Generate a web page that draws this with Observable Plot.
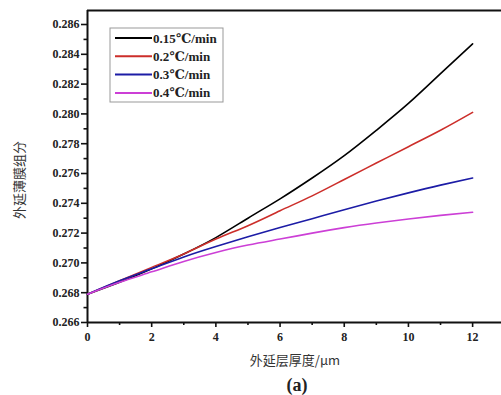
<!DOCTYPE html>
<html>
<head>
<meta charset="utf-8">
<script src="https://cdn.jsdelivr.net/npm/d3@7"></script>
<script src="https://cdn.jsdelivr.net/npm/@observablehq/plot@0.6"></script>
<style>
  html, body { margin: 0; padding: 0; background: #fff; }
  #chart { position: relative; width: 501px; height: 395px; overflow: hidden; }
  svg text { font-family: "Liberation Serif", "DejaVu Serif", serif; }
</style>
</head>
<body>
<div id="chart"></div>
<script>
// ---- data ----
const thickness = [0, 1, 2, 3, 4, 5, 6, 7, 8, 9, 10, 11, 12];
const seriesNames = ["0.15℃/min", "0.2℃/min", "0.3℃/min", "0.4℃/min"];
const seriesColors = ["#000000", "#cc2e2a", "#1c1ca6", "#cc3fd6"];
const rate015 = [0.2679, 0.2687, 0.2696, 0.2706, 0.2717, 0.2730, 0.2743, 0.2757, 0.2772, 0.2789, 0.2807, 0.2827, 0.2847];
const rate02  = [0.2679, 0.2688, 0.2697, 0.2706, 0.2716, 0.2725, 0.2735, 0.2745, 0.2756, 0.2767, 0.2778, 0.2789, 0.2801];
const rate03  = [0.2679, 0.2688, 0.2696, 0.2704, 0.2711, 0.27175, 0.27237, 0.27297, 0.27357, 0.27415, 0.2747, 0.27522, 0.2757];
const rate04  = [0.2679, 0.2687, 0.2694, 0.2701, 0.2707, 0.2712, 0.2716, 0.2720, 0.27237, 0.27268, 0.27295, 0.27319, 0.2734];
const yMajorTicks = [0.266, 0.268, 0.270, 0.272, 0.274, 0.276, 0.278, 0.280, 0.282, 0.284, 0.286];
const yMinorTicks = [0.267, 0.269, 0.271, 0.273, 0.275, 0.277, 0.279, 0.281, 0.283, 0.285];
const xMajorTicks = [0, 2, 4, 6, 8, 10, 12];
const xMinorTicks = [1, 3, 5, 7, 9, 11];
const xLabel = "外延层厚度/μm";
const yLabel = "外延薄膜组分";
const panelLabel = "(a)";

const allSeries = [rate015, rate02, rate03, rate04];
const table = [];
allSeries.forEach((vals, si) => {
  vals.forEach((v, i) => table.push({ series: seriesNames[si], x: thickness[i], y: v }));
});

const serif = '"Liberation Serif", "DejaVu Serif", serif';
const W = 501, H = 395;
const plot = Plot.plot({
  width: W,
  height: H,
  marginLeft: 87,
  marginRight: 0,
  marginTop: 10,
  marginBottom: 73,
  x: { domain: [0, 12.9] },
  y: { domain: [0.266, 0.28694] },
  color: { domain: seriesNames, range: seriesColors },
  marks: [
    Plot.axisY({ ticks: yMajorTicks, tickSize: 6, tickPadding: 2, tickFormat: d3.format(".3f"),
                 fontSize: 12, fontWeight: "bold", fontFamily: serif, label: null,
                 stroke: "#111", strokeWidth: 1.6, fill: "#222" }),
    Plot.axisY({ ticks: yMinorTicks, tickSize: 3.5, tickFormat: () => "", label: null, stroke: "#111", strokeWidth: 1.6 }),
    Plot.axisX({ ticks: xMajorTicks, tickSize: 5, tickPadding: 5, fontSize: 12, fontWeight: "bold", fontFamily: serif,
                 label: null, stroke: "#111", strokeWidth: 1.6, fill: "#222" }),
    Plot.axisX({ ticks: xMinorTicks, tickSize: 3, tickFormat: () => "", label: null, stroke: "#111", strokeWidth: 1.6 }),
    Plot.ruleX([0], { stroke: "#111", strokeWidth: 2 }),
    Plot.ruleY([0.266], { stroke: "#111", strokeWidth: 2 }),
    Plot.ruleY([0.28694], { stroke: "#111", strokeWidth: 2.2 }),
    Plot.line(table, { x: "x", y: "y", stroke: "series", z: "series", strokeWidth: 1.6, curve: "natural" })
  ]
});

const svg = d3.select(plot);
// axis titles and panel label
svg.append("text")
  .attr("x", 295).attr("y", 365)
  .attr("text-anchor", "middle")
  .style("font-family", '"Noto Sans CJK SC", sans-serif')
  .style("font-size", "13px").attr("fill", "#333")
  .text(xLabel);
svg.append("text")
  .attr("transform", "translate(24,180) rotate(-90)")
  .attr("text-anchor", "middle")
  .style("font-family", '"Noto Sans CJK SC", sans-serif')
  .style("font-size", "13px").attr("fill", "#333")
  .text(yLabel);
svg.append("text")
  .attr("x", 297).attr("y", 391)
  .attr("text-anchor", "middle")
  .style("font-size", "18px").style("font-weight", "bold").attr("fill", "#222")
  .text(panelLabel);

// legend
const lg = svg.append("g").attr("transform", "translate(110,28)");
lg.append("rect").attr("width", 113).attr("height", 74)
  .attr("fill", "#fff").attr("stroke", "#999").attr("stroke-width", 1);
seriesNames.forEach((name, i) => {
  const yy = 10 + i * 18.3;
  lg.append("line").attr("x1", 5).attr("x2", 42).attr("y1", yy).attr("y2", yy)
    .attr("stroke", seriesColors[i]).attr("stroke-width", 2);
  lg.append("text").attr("x", 43).attr("y", yy + 4.5)
    .attr("text-anchor", "start")
    .style("font-size", "13px").style("font-weight", "bold").attr("fill", "#222")
    .text(name);
});

document.getElementById("chart").appendChild(plot);
</script>
</body>
</html>
